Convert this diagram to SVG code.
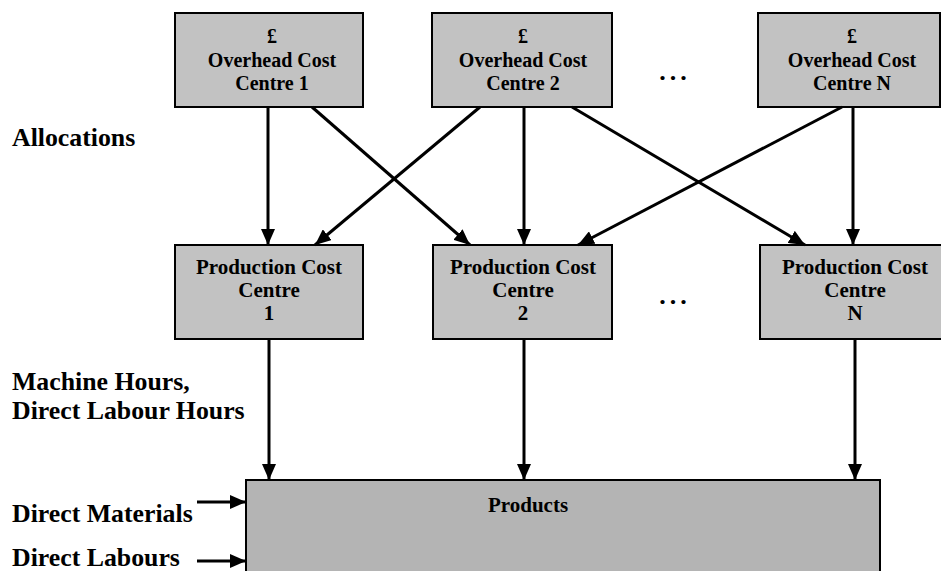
<svg xmlns="http://www.w3.org/2000/svg" width="941" height="571" viewBox="0 0 941 571">
  <style>
    text { font-family: "Liberation Serif", "Times New Roman", serif; font-weight: bold; fill: #000; }
    .lbl { font-size: 25.8px; }
    .in { font-size: 21px; text-anchor: middle; }
    .oh { font-size: 20px; text-anchor: middle; }
    .dots { font-size: 26px; letter-spacing: 4px; text-anchor: middle; }
    .box { fill: #c2c2c2; stroke: #000; stroke-width: 2; }
    .prod { fill: #b4b4b4; stroke: #000; stroke-width: 2; }
  </style>
  <defs>
    <marker id="head" viewBox="0 0 16 14" refX="16" refY="7" markerWidth="16" markerHeight="14" markerUnits="userSpaceOnUse" orient="auto">
      <path d="M0,0 L16,7 L0,14 z" fill="#000"/>
    </marker>
  </defs>

  <!-- side labels -->
  <text class="lbl" x="12" y="146">Allocations</text>
  <text class="lbl" x="12" y="390">Machine Hours,</text>
  <text class="lbl" x="12" y="419">Direct Labour Hours</text>
  <text class="lbl" x="12" y="522">Direct Materials</text>
  <text class="lbl" x="12" y="566">Direct Labours</text>
  <text class="dots" x="675" y="80">...</text>
  <text class="dots" x="675" y="304">...</text>

  <!-- overhead cost centres -->
  <g id="oh1">
    <rect class="box" x="175" y="13" width="188" height="94"/>
    <text class="oh" x="272" y="43">£</text>
    <text class="oh" x="272" y="67">Overhead Cost</text>
    <text class="oh" x="272" y="90">Centre 1</text>
  </g>
  <g id="oh2">
    <rect class="box" x="432" y="13" width="180" height="94"/>
    <text class="oh" x="523" y="43">£</text>
    <text class="oh" x="523" y="67">Overhead Cost</text>
    <text class="oh" x="523" y="90">Centre 2</text>
  </g>
  <g id="ohN">
    <rect class="box" x="758" y="13" width="182" height="94"/>
    <text class="oh" x="852" y="43">£</text>
    <text class="oh" x="852" y="67">Overhead Cost</text>
    <text class="oh" x="852" y="90">Centre N</text>
  </g>

  <!-- production cost centres -->
  <g id="pc1">
    <rect class="box" x="175" y="245" width="188" height="94"/>
    <text class="in" x="269" y="274">Production Cost</text>
    <text class="in" x="269" y="297">Centre</text>
    <text class="in" x="269" y="320">1</text>
  </g>
  <g id="pc2">
    <rect class="box" x="433" y="245" width="179" height="94"/>
    <text class="in" x="523" y="274">Production Cost</text>
    <text class="in" x="523" y="297">Centre</text>
    <text class="in" x="523" y="320">2</text>
  </g>
  <g id="pcN">
    <rect class="box" x="760" y="245" width="190" height="94"/>
    <text class="in" x="855" y="274">Production Cost</text>
    <text class="in" x="855" y="297">Centre</text>
    <text class="in" x="855" y="320">N</text>
  </g>

  <!-- products -->
  <g id="products">
    <rect class="prod" x="246" y="480" width="634" height="100"/>
    <text class="in" x="528" y="512">Products</text>
  </g>

  <!-- connectors -->
  <g id="connectors" stroke="#000" stroke-width="3" fill="none">
    <line x1="268" y1="107" x2="268" y2="245" marker-end="url(#head)"/>
    <line x1="312" y1="107" x2="470" y2="245" marker-end="url(#head)"/>
    <line x1="480" y1="107" x2="315" y2="245" marker-end="url(#head)"/>
    <line x1="524" y1="107" x2="524" y2="245" marker-end="url(#head)"/>
    <line x1="572" y1="107" x2="805" y2="245" marker-end="url(#head)"/>
    <line x1="842" y1="107" x2="578" y2="245" marker-end="url(#head)"/>
    <line x1="853" y1="107" x2="853" y2="245" marker-end="url(#head)"/>
    <line x1="269" y1="339" x2="269" y2="480" marker-end="url(#head)"/>
    <line x1="524" y1="339" x2="524" y2="480" marker-end="url(#head)"/>
    <line x1="855" y1="339" x2="855" y2="480" marker-end="url(#head)"/>
    <line x1="197" y1="502" x2="246" y2="502" marker-end="url(#head)"/>
    <line x1="197" y1="561" x2="246" y2="561" marker-end="url(#head)"/>
  </g>
</svg>
